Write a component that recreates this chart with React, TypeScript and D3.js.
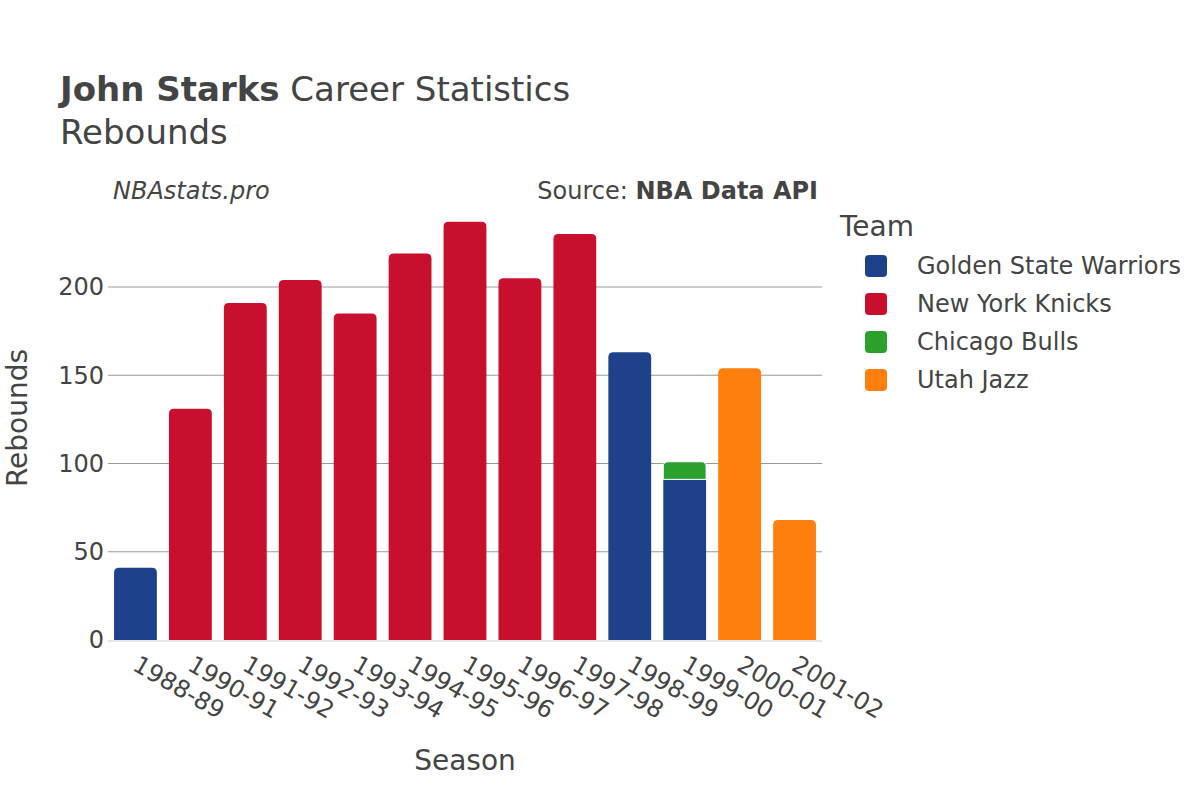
import React from "react";
import * as d3 from "d3";

const seasons = ["1988-89","1990-91","1991-92","1992-93","1993-94","1994-95","1995-96","1996-97","1997-98","1998-99","1999-00","2000-01","2001-02"];
const teams = ["Golden State Warriors","New York Knicks","Chicago Bulls","Utah Jazz"];
const teamColors = ["#1d428a","#c8102e","#2ca02c","#ff7f0e"];
const gswValues = [41,0,0,0,0,0,0,0,0,163,91,0,0];
const nykValues = [0,131,191,204,185,219,237,205,230,0,0,0,0];
const chiValues = [0,0,0,0,0,0,0,0,0,0,10,0,0];
const utaValues = [0,0,0,0,0,0,0,0,0,0,0,154,68];
const yTicks = [0,50,100,150,200];

const FONT = "'DejaVu Sans', sans-serif";
const TEXT = "#444";

function roundTopPath(x: number, y: number, w: number, h: number, r: number) {
  const rr = Math.min(r, h, w / 2);
  return `M${x},${y + h}V${y + rr}Q${x},${y} ${x + rr},${y}H${x + w - rr}Q${x + w},${y} ${x + w},${y + rr}V${y + h}Z`;
}

export default function App() {
  const left = 108, right = 822, bottom = 640;
  const x = d3.scaleBand<string>().domain(seasons).range([left, right]).paddingInner(0.22).paddingOuter(0.11);
  const y = d3.scaleLinear().domain([0, 249]).range([bottom, bottom - 249 * (353 / 200)]);
  const series = [gswValues, nykValues, chiValues, utaValues];

  const bars: React.ReactNode[] = [];
  seasons.forEach((s, i) => {
    let base = 0;
    const segs: { t: number; v0: number; v1: number }[] = [];
    series.forEach((vals, t) => {
      const v = vals[i];
      if (v > 0) {
        segs.push({ t, v0: base, v1: base + v });
        base += v;
      }
    });
    segs.forEach((sg, k) => {
      const isTop = k === segs.length - 1;
      const bx = x(s)!;
      const bw = x.bandwidth();
      const y0 = y(sg.v0);
      const y1 = y(sg.v1);
      const h = y0 - y1;
      bars.push(
        <path
          key={`${s}-${sg.t}`}
          d={isTop ? roundTopPath(bx, y1, bw, h, 5) : `M${bx},${y0}V${y1}H${bx + bw}V${y0}Z`}
          fill={teamColors[sg.t]}
          stroke="#fff"
          strokeWidth={k > 0 ? 1 : 0}
        />
      );
    });
  });

  return (
    <svg width={1200} height={800} style={{ display: "block", position: "absolute", left: 0, top: 0 }} fontFamily={FONT}>
      <rect width={1200} height={800} fill="#fff" />
      <text x={60} y={101} fontSize={34} fill={TEXT}>
        <tspan fontWeight="bold">John Starks</tspan>
        <tspan> Career Statistics</tspan>
      </text>
      <text x={60} y={144} fontSize={34} fill={TEXT}>Rebounds</text>
      <text x={113} y={199} fontSize={24} fill={TEXT} fontStyle="italic">NBAstats.pro</text>
      <text x={818} y={199} fontSize={24} fill={TEXT} textAnchor="end">
        <tspan>Source: </tspan>
        <tspan fontWeight="bold">NBA Data API</tspan>
      </text>

      {yTicks.filter(t => t > 0).map(t => (
        <line key={t} x1={left} x2={right} y1={y(t)} y2={y(t)} stroke="#999" strokeWidth={1.2} />
      ))}
      {yTicks.map(t => (
        <text key={`yl${t}`} x={104} y={y(t)} dy="0.35em" fontSize={24} fill={TEXT} textAnchor="end">{t}</text>
      ))}
      {bars}
      <line x1={left} x2={right} y1={bottom + 1} y2={bottom + 1} stroke="#e6e6e6" strokeWidth={2} />

      {seasons.map(s => {
        const cx = x(s)! + x.bandwidth() / 2;
        return (
          <text key={`xl${s}`} transform={`translate(${cx},662) rotate(30)`} dy="0.35em" fontSize={24} fill={TEXT}>{s}</text>
        );
      })}

      <text x={465} y={770} fontSize={28} fill={TEXT} textAnchor="middle">Season</text>
      <text transform="translate(27,418) rotate(-90)" fontSize={28} fill={TEXT} textAnchor="middle">Rebounds</text>

      <text x={840} y={236} fontSize={28} fill={TEXT}>Team</text>
      {teams.map((t, i) => {
        const cy = 266 + i * 38;
        return (
          <g key={t}>
            <rect x={865} y={cy - 11} width={22} height={22} rx={4} fill={teamColors[i]} />
            <text x={917} y={cy} dy="0.35em" fontSize={24} fill={TEXT}>{t}</text>
          </g>
        );
      })}
    </svg>
  );
}
